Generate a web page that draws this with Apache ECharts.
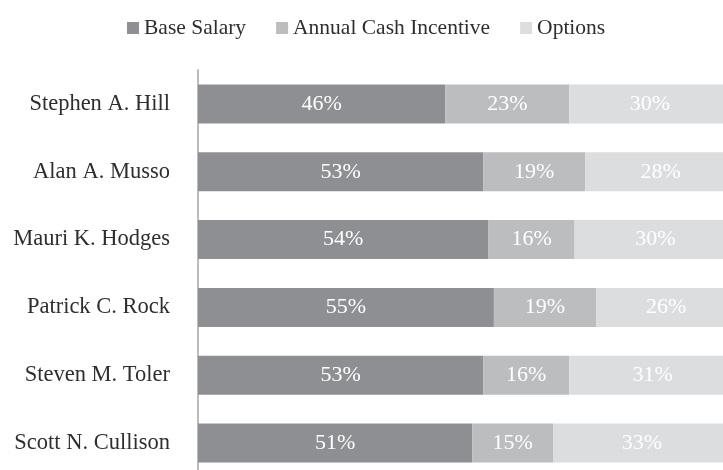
<!DOCTYPE html>
<html>
<head>
<meta charset="utf-8">
<script src="https://cdn.jsdelivr.net/npm/echarts@6/dist/echarts.min.js"></script>
<style>
  html, body { margin: 0; padding: 0; background: #fff; overflow: hidden; }
  #chart { width: 736px; height: 477px; }
</style>
</head>
<body>
<div id="chart"></div>
<script>
const names = ['Stephen A. Hill', 'Alan A. Musso', 'Mauri K. Hodges', 'Patrick C. Rock', 'Steven M. Toler', 'Scott N. Cullison'];
const baseSalary = [46, 53, 54, 55, 53, 51];
const cashIncentive = [23, 19, 16, 19, 16, 15];
const options = [30, 28, 30, 26, 31, 33];

const font = '"Liberation Serif", "DejaVu Serif", serif';

// the chart is a bit larger than the window: the reference is cropped on the right and bottom
const chart = echarts.init(document.getElementById('chart'));

function bar(name, data, color) {
  return {
    name: name,
    type: 'bar',
    stack: 'total',
    barWidth: 39,
    data: data,
    itemStyle: { color: color },
    label: {
      show: true,
      position: 'inside',
      formatter: '{c}%',
      color: '#fff',
      fontFamily: font,
      fontSize: 22
    },
    emphasis: { disabled: true }
  };
}

chart.setOption({
  animation: false,
  textStyle: { fontFamily: font },
  legend: {
    top: 12,
    left: 122,
    itemWidth: 12,
    itemHeight: 12,
    itemGap: 30,
    icon: 'rect',
    textStyle: { fontFamily: font, fontSize: 21.5, color: '#2e2e2e' },
    data: ['Base Salary', 'Annual Cash Incentive', 'Options']
  },
  grid: { left: 198, top: 70, right: 0, bottom: 0 },
  xAxis: {
    type: 'value',
    min: 0,
    max: 100,
    show: false
  },
  yAxis: {
    type: 'category',
    inverse: true,
    data: names,
    axisTick: { show: false },
    axisLine: { lineStyle: { color: '#bdbdbd', width: 2 } },
    axisLabel: { color: '#2e2e2e', fontFamily: font, fontSize: 22.5, margin: 28 }
  },
  series: [
    bar('Base Salary', baseSalary, '#8e8f93'),
    bar('Annual Cash Incentive', cashIncentive, '#bcbdbf'),
    bar('Options', options, '#dcdddf')
  ]
});
</script>
</body>
</html>
